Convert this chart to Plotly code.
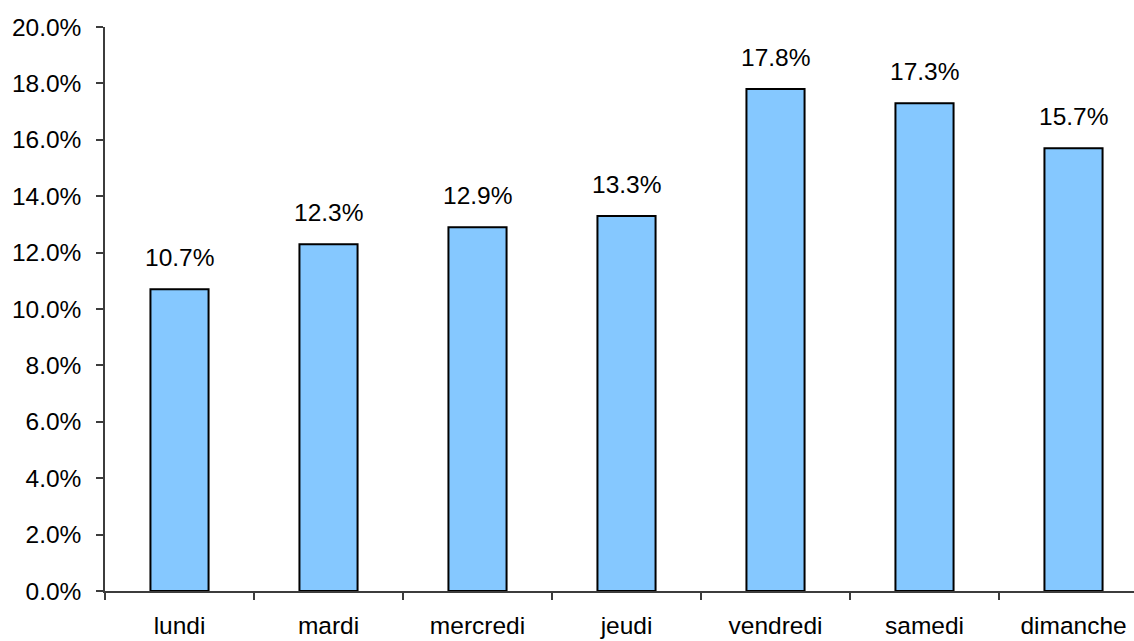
import plotly.graph_objects as go

# Share of the week, by day
days = ["lundi", "mardi", "mercredi", "jeudi", "vendredi", "samedi", "dimanche"]
shares = [0.107, 0.123, 0.129, 0.133, 0.178, 0.173, 0.157]
y_ticks = [0.0, 0.02, 0.04, 0.06, 0.08, 0.10, 0.12, 0.14, 0.16, 0.18, 0.20]

FONT = "Liberation Sans, Arial, sans-serif"
AXIS_COLOR = "#3c3c3c"
FONT_SIZE = 24.5

fig = go.Figure(
    go.Bar(
        x=days,
        y=shares,
        width=0.39,
        marker=dict(color="#85C8FF", line=dict(color="#000000", width=2)),
        hoverinfo="skip",
    )
)

# Value labels above each bar
for d, v in zip(days, shares):
    fig.add_annotation(
        x=d, y=v, text=f"{v * 100:.1f}%",
        showarrow=False, yanchor="bottom", yshift=16,
        font=dict(family=FONT, size=FONT_SIZE, color="#000000"),
    )

fig.update_layout(
    width=1134, height=641,
    margin=dict(l=105, r=0, t=27, b=50),
    plot_bgcolor="white", paper_bgcolor="white",
    showlegend=False,
    font=dict(family=FONT, size=FONT_SIZE, color="#000000"),
    bargap=0.61,
)

fig.update_xaxes(
    range=[-0.5, 6.406],
    showline=True, linecolor=AXIS_COLOR, linewidth=1.5,
    ticks="outside", tickson="boundaries", ticklen=7, tickcolor=AXIS_COLOR,
    tickwidth=1.5, showgrid=False, zeroline=False,
    ticklabelstandoff=12,
)

fig.update_yaxes(
    range=[0, 0.20],
    tickvals=y_ticks, tickformat=".1%",
    showline=True, linecolor=AXIS_COLOR, linewidth=1.5,
    ticks="outside", ticklen=7, tickcolor=AXIS_COLOR, tickwidth=1.5,
    showgrid=False, zeroline=False,
    ticklabelstandoff=10,
)

fig.write_html("out.html")
